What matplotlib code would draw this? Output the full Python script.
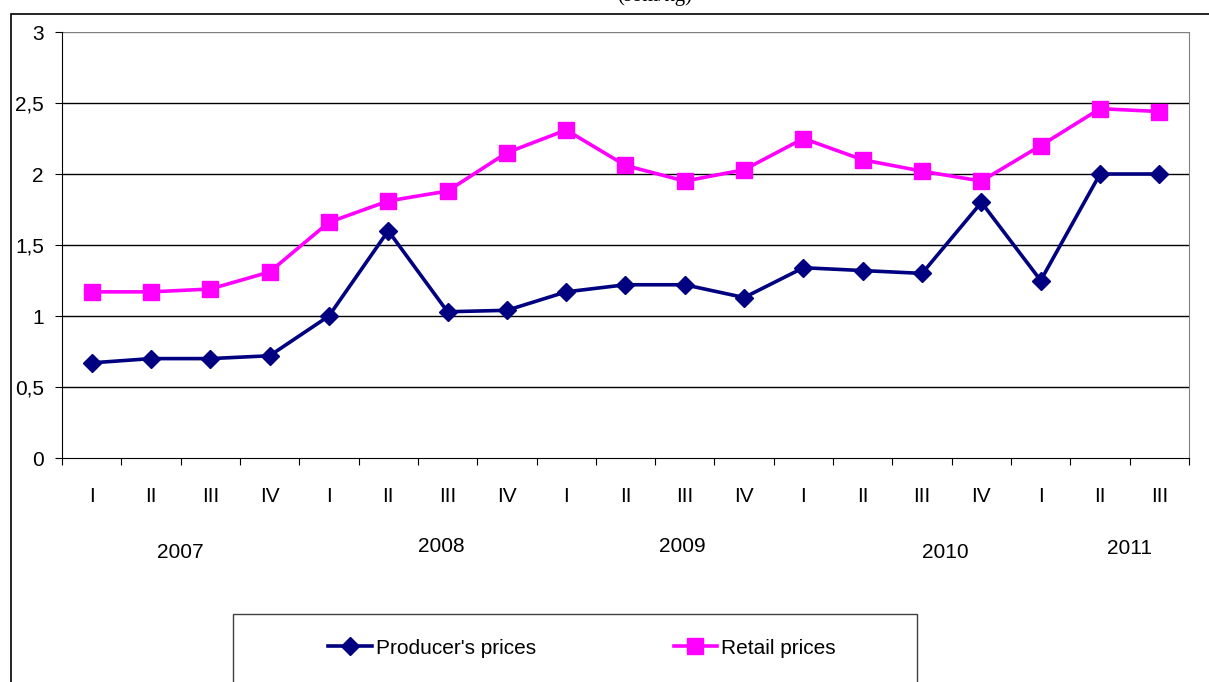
import matplotlib
matplotlib.use('Agg')
import numpy as np
import matplotlib.pyplot as plt
from matplotlib.patches import Rectangle

quarters = ['I', 'II', 'III', 'IV', 'I', 'II', 'III', 'IV', 'I', 'II',
            'III', 'IV', 'I', 'II', 'III', 'IV', 'I', 'II', 'III']
years = ['2007', '2008', '2009', '2010', '2011']
# year label positions (category index) and vertical offsets as in the original
year_pos = [1.5, 5.9, 9.95, 14.4, 17.5]
year_y = [553, 547, 547, 553, 549]

producer = [0.67, 0.70, 0.70, 0.72, 1.00, 1.60, 1.03, 1.04, 1.17, 1.22,
            1.22, 1.13, 1.34, 1.32, 1.30, 1.80, 1.25, 2.00, 2.00]
retail = [1.17, 1.17, 1.19, 1.31, 1.66, 1.81, 1.88, 2.15, 2.31, 2.06,
          1.95, 2.03, 2.25, 2.10, 2.02, 1.95, 2.20, 2.46, 2.44]

W, H = 1209, 682
fig = plt.figure(figsize=(W / 100, H / 100), dpi=100)
plt.rcParams['font.family'] = ['Liberation Sans', 'DejaVu Sans']

# outer chart frame (runs off the right/bottom edge)
fig.patches.append(Rectangle((11 / W, -0.1), 1.2, (H - 14) / H + 0.1,
                             transform=fig.transFigure, fill=False,
                             edgecolor='black', linewidth=1.2))
fig.text(655 / W, 1.0 + 4 / H, '(som/kg)', ha='center', va='center',
         fontsize=15, family='Liberation Serif')

ax = fig.add_axes([62 / W, (H - 458) / H, (1189 - 62) / W, (458 - 32) / H])
x = np.arange(len(quarters))
ax.plot(x, producer, color='#000080', lw=2.6, marker='D', ms=9,
        label="Producer's prices")
ax.plot(x, retail, color='#FF00FF', lw=2.6, marker='s', ms=11,
        label='Retail prices')

ax.set_xlim(-0.5, len(quarters) - 0.5)
ax.set_ylim(0, 3)
ax.set_yticks(np.arange(0, 3.01, 0.5))
ax.set_yticklabels(['0', '0,5', '1', '1,5', '2', '2,5', '3'], fontsize=15)
for v in np.arange(0.5, 3.01, 0.5):
    ax.axhline(v, color='black' if v < 3 else '#808080', lw=1, zorder=0)

ax.set_xticks(np.arange(-0.5, len(quarters), 1))
ax.set_xticklabels([])
ax.set_xticks(x, minor=True)
ax.set_xticklabels(quarters, minor=True, fontsize=15)
ax.tick_params(axis='x', which='minor', length=0, pad=21)
ax.tick_params(axis='x', which='major', length=5, direction='out')
ax.tick_params(axis='y', length=5, direction='out', pad=8)

for yr, p, yp in zip(years, year_pos, year_y):
    ax.text(p, -(yp - 458) / (458 - 32), yr,
            transform=ax.get_xaxis_transform(), fontsize=15,
            ha='center', va='center')

ax.spines['top'].set_visible(False)
ax.spines['right'].set_color('#808080')

# legend box, cut off at the bottom
fig.patches.append(Rectangle((233 / W, -0.05), (917 - 233) / W, (H - 614) / H + 0.05,
                             transform=fig.transFigure, fill=False,
                             edgecolor='#404040', linewidth=1))
leg = fig.legend(loc='center', bbox_to_anchor=(582 / W, (H - 648) / H),
                 ncol=2, frameon=False, fontsize=15, columnspacing=6.6,
                 handlelength=2.1, handletextpad=0.2)

fig.savefig('out.png', dpi=100)
